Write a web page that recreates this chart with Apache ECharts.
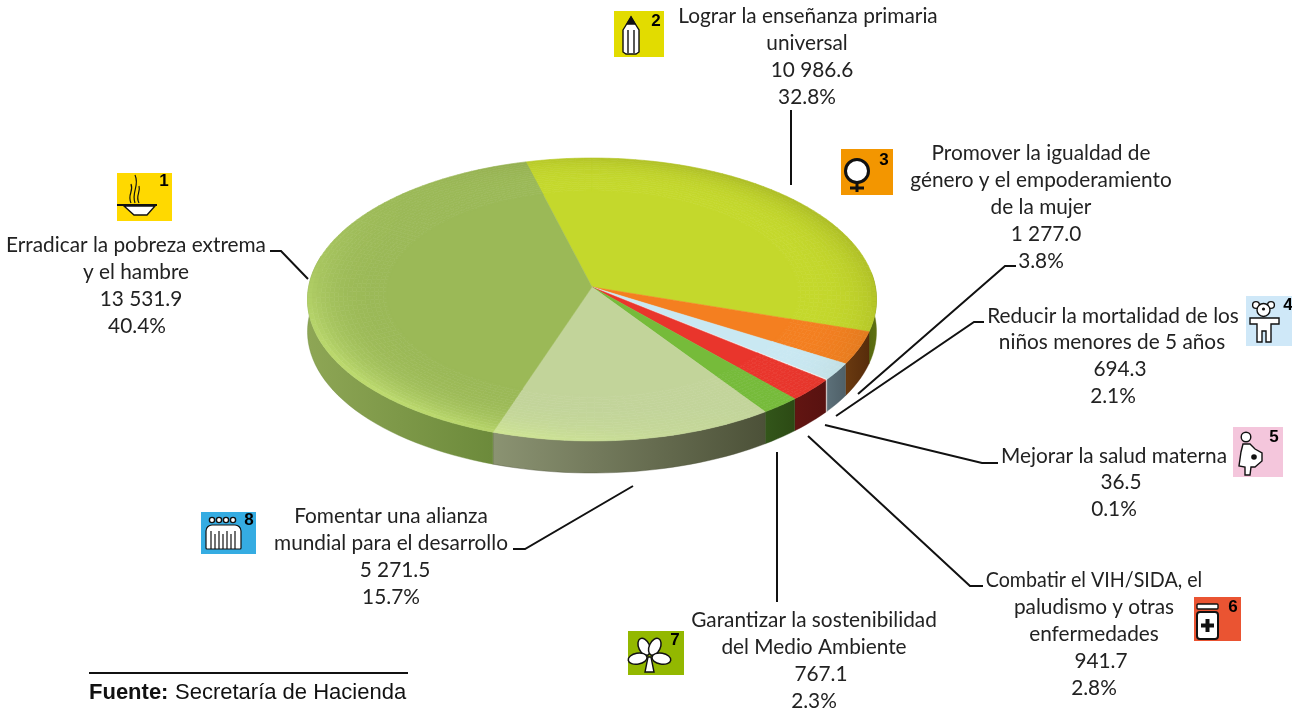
<!DOCTYPE html>
<html><head><meta charset="utf-8">
<style>html,body{margin:0;padding:0;background:#fff}#c{width:1292px;height:712px}</style>
<script src="https://cdn.jsdelivr.net/npm/echarts@6/dist/echarts.min.js"></script>
</head><body><div id="c"></div>
<script>
// ---- data (objectives 1..8) ----
const categories = [
  ['Erradicar la pobreza extrema','y el hambre'],
  ['Lograr la enseñanza primaria','universal'],
  ['Promover la igualdad de','género y el empoderamiento','de la mujer'],
  ['Reducir la mortalidad de los','niños menores de 5 años'],
  ['Mejorar la salud materna'],
  ['Combatir el VIH/SIDA, el','paludismo y otras','enfermedades'],
  ['Garantizar la sostenibilidad','del Medio Ambiente'],
  ['Fomentar una alianza','mundial para el desarrollo']
];
const values = [13531.9,10986.6,1277.0,694.3,36.5,941.7,767.1,5271.5];
const valueLabels = ['13 531.9','10 986.6','1 277.0','694.3','36.5','941.7','767.1','5 271.5'];
const percentLabels = ['40.4%','32.8%','3.8%','2.1%','0.1%','2.8%','2.3%','15.7%'];
const drawOrder = [1,2,3,4,5,6,7,0];
const sourceBold = 'Fuente:';
const sourceText = 'Secretaría de Hacienda';

// ---- styles & layout ----
const topColors = ['#9bb957','#c4d82c','#f47f20','#c9e8f2','#f4f4f4','#e9352c','#76bb3a','#c2d49a'];
const sideColors = [['#8ea655','#6c8a3b'],['#55680f','#5f7012'],['#6a3a10','#572c0b'],['#5c7079','#4f6068'],
                    ['#dddddd','#dddddd'],['#621512','#581210'],['#33561a','#2c4a14'],['#8b9372','#4c5138']];
const startAngle = -13, warp = 3, persp = 0.0884, depth = 0.228;
const cx = 592, cy = 287, ax = 283.4, ay = 140.4;
const labelCx = [[136,136,141,137],[808,807,812,807],[1041,1041,1041,1046,1041],[1113,1112,1120,1113],
                 [1114,1121,1114],[1094,1094,1094,1101,1094],[814,814,821,814],[391,391,395,391]];
const labelTop = [245,16,153,316,456,580,620,516];
const labelStep = [27,27,27,26.7,26.5,27,27,27];
const leaders = [
  [[270,251],[281,251],[308,279]], [[791,110],[791,185]],
  [[1016,266],[1005,266],[858,394]], [[984,322],[974,322],[836,416]],
  [[998,463],[982,463],[825,425]], [[983,586],[970,586],[808,436]],
  [[777,602],[777,452]], [[513,549],[525,549],[633,486]]
];
const badges = [
  [117,173,55,48,'#ffd900','1',164,181],[614,11,50,46,'#e2dc00','2',656,21],
  [841,149,52,46,'#f39600','3',884,160],[1246,296,46,50,'#cfe8f8','4',1288,305],
  [1233,427,50,50,'#f4c6dc','5',1274,437],[1194,597,47,44,'#ea5432','6',1233,607],
  [628,631,56,44,'#93b800','7',675,640],[201,512,55,42,'#35ace2','8',249,520]
];

const total = values.reduce((a,b)=>a+b,0);
let acc = startAngle;
const sectors = drawOrder.map(i=>{const s=acc; acc+=values[i]/total*360; return [i,values[i],s,acc];});

const rad = d=>d*Math.PI/180;
function uv(theta,r,drop){
  const th=theta+warp*Math.sin(rad(2*(theta-60)));
  const u=r*Math.sin(rad(th)), v=r*Math.cos(rad(th)), w=1+persp*v;
  return [u/w, v/w-(drop||0)];
}
function hex(c){return [1,3,5].map(i=>parseInt(c.substr(i,2),16));}
function mix(a,b,t){const A=hex(a),B=hex(b);return 'rgb('+A.map((x,i)=>Math.round(x+(B[i]-x)*t)).join(',')+')';}

function topItem(params,api){
  const i=api.value(0), s=api.value(2), e=api.value(3), base=topColors[i];
  const C=p=>api.coord(p), kids=[];
  const pts=[C(uv(0,0))];
  const rIn=0.72, rings=18, n=Math.max(1,Math.ceil((e-s)/2));
  for(let k=0;k<=n;k++) pts.push(C(uv(s+(e-s)*k/n,rIn+0.005)));
  kids.push({type:'polygon',shape:{points:pts},style:{fill:base,stroke:base,lineWidth:0.5}});
  for(let k=0;k<n;k++){
    const a=s+(e-s)*k/n,b=s+(e-s)*(k+1)/n,m=(a+b)/2;
    const c0=Math.cos(rad(m-228));
    const lite=Math.pow(Math.max(c0,0),2)*0.5, dark=Math.max(-c0,0)*0.22;
    for(let q=0;q<rings;q++){
      const r0=rIn+(1-rIn)*q/rings,r1=rIn+(1-rIn)*(q+1)/rings;
      const f=(q+0.5)/rings, t=Math.pow(f,3);
      const col=lite>0?mix(base,'#e2ff88',lite*t):mix(base,'#5a5a10',dark*t);
      kids.push({type:'polygon',shape:{points:[C(uv(a,r0)),C(uv(b,r0)),C(uv(b,r1)),C(uv(a,r1))]},
                 style:{fill:col,stroke:col,lineWidth:0.6}});
    }
  }
  return {type:'group',children:kids};
}
function sideItem(params,api){
  const i=api.value(0), s=Math.max(api.value(2),82), e=Math.min(api.value(3),280);
  if(e<=s) return {type:'group',children:[]};
  const n=Math.max(2,Math.ceil((e-s)/2)), up=[], down=[];
  for(let k=0;k<=n;k++){const t=s+(e-s)*k/n; up.push(api.coord(uv(t,1))); down.unshift(api.coord(uv(t,1,depth)));}
  const c=sideColors[i];
  return {type:'polygon',shape:{points:up.concat(down)},style:{
    fill:new echarts.graphic.LinearGradient(0,0,1,0,[{offset:0,color:c[0]},{offset:1,color:c[1]}]),
    stroke:c[1],lineWidth:0.4}};
}

// ---- graphic helpers ----
const ink='#111';
const poly=(pts,fill,lw)=>({type:'polygon',shape:{points:pts},style:{fill:fill||'#fff',stroke:ink,lineWidth:lw==null?1.4:lw},z:20});
const line=(pts,lw)=>({type:'polyline',shape:{points:pts},style:{fill:null,stroke:ink,lineWidth:lw||1.4},z:20});
const circ=(x,y,r,fill,lw)=>({type:'circle',shape:{cx:x,cy:y,r:r},style:{fill:fill||'#fff',stroke:ink,lineWidth:lw==null?1.4:lw},z:20});
const curve=(a,b,c,d)=>({type:'bezierCurve',shape:{x1:a[0],y1:a[1],cpx1:b[0],cpy1:b[1],cpx2:c[0],cpy2:c[1],x2:d[0],y2:d[1]},style:{fill:null,stroke:ink,lineWidth:1.2},z:20});
const leaf=(x,y,rx,ry,rot)=>({type:'ellipse',shape:{cx:0,cy:-ry,rx:rx,ry:ry},x:x,y:y,rotation:rad(rot),style:{fill:'#fff',stroke:ink,lineWidth:1.5},z:20});

const glyphs=[
  // soup bowl
  poly([[124,206],[134,215],[147,215],[155,206]]), line([[117,205],[157,205]],1.8),
  curve([131,203],[127,194],[134,192],[131,184]), curve([135,203],[131,192],[140,186],[135,175]), curve([139,203],[135,196],[141,192],[139,186]),
  // pencil
  poly([[623,30],[631,17],[639,30],[639,52],[636,54],[626,54],[623,52]]), poly([[631,17],[627,24],[635,24]],ink),
  line([[628,30],[628,53]]), line([[634,30],[634,53]]),
  // venus
  line([[857,183],[857,192]],3), line([[850,188],[864,188]],3), circ(857,171,11.5,'#fff',3),
  // child
  circ(1256,305,3.4), circ(1271,305,3.4), circ(1263.5,310,6.5), circ(1263.5,309,1.6,ink,0),
  poly([[1250,318],[1279,318],[1279,324],[1271,324],[1271,342],[1266,342],[1266,331],[1262,331],[1262,342],[1257,342],[1257,324],[1250,324]]),
  // pregnant
  circ(1246,437,4.8), poly([[1243,444],[1250,444],[1255,449],[1262,453],[1262,461],[1255,467],[1251,467],[1250,475],[1245,475],[1245,467],[1239,466],[1241,452]]),
  circ(1254,457,2.8,ink,0),
  // bottle
  {type:'rect',shape:{x:1197,y:604,width:21,height:5,r:1},style:{fill:'#fff',stroke:ink,lineWidth:1.4},z:20},
  {type:'rect',shape:{x:1197,y:612,width:21,height:27,r:3},style:{fill:'#fff',stroke:ink,lineWidth:2},z:20},
  {type:'rect',shape:{x:1205.5,y:619,width:4,height:13},style:{fill:ink},z:21},
  {type:'rect',shape:{x:1201,y:623.5,width:13,height:4},style:{fill:ink},z:21},
  // tree
  leaf(648,655,5.5,9,25), leaf(651,655,5.5,9,-25), leaf(647,657,5.5,9.5,100), leaf(652,657,5.5,9.5,-100),
  poly([[648,657],[651,657],[654,672],[645,672]]),
  // people
  {type:'rect',shape:{x:206,y:525,width:35,height:24,r:[6,6,1,1]},style:{fill:'#fff',stroke:ink,lineWidth:1.2},z:20},
  circ(212,520,2.6),circ(219,520,2.6),circ(226,520,2.6),circ(233,520,2.6),
  line([[211,531],[211,549]],1.2),line([[215,534],[215,549]],1.2),line([[219,531],[219,549]],1.2),line([[223,534],[223,549]],1.2),
  line([[227,531],[227,549]],1.2),line([[231,534],[231,549]],1.2),line([[235,531],[235,549]],1.2)
];

const elements=[];
leaders.forEach(p=>elements.push({type:'polyline',shape:{points:p},style:{fill:null,stroke:'#111',lineWidth:2},z:15}));
badges.forEach(b=>{
  elements.push({type:'rect',shape:{x:b[0],y:b[1],width:b[2],height:b[3]},style:{fill:b[4]},z:18});
  elements.push({type:'text',x:b[6],y:b[7],style:{text:b[5],fill:'#000',font:'bold 17px "Liberation Sans"',textAlign:'center',textVerticalAlign:'middle'},z:22});
});
glyphs.forEach(g=>elements.push(g));
categories.forEach((c,i)=>{
  const lines=c.concat([valueLabels[i],percentLabels[i]]);
  lines.forEach((t,j)=>{
    const el={type:'text',x:labelCx[i][j],y:labelTop[i]+j*labelStep[i],
      style:{text:t,fill:'#222',font:'20.8px Lato',textAlign:'center',textVerticalAlign:'middle'},z:16};
    if(i===5&&j===0) el.scaleX=0.945;
    elements.push(el);
  });
});
elements.push({type:'line',shape:{x1:89,y1:673,x2:408,y2:673},style:{stroke:'#111',lineWidth:2},z:15});
elements.push({type:'text',x:89,y:693,style:{text:sourceBold,fill:'#111',font:'bold 22px "Liberation Sans"',textVerticalAlign:'middle'},z:16});
elements.push({type:'text',x:175,y:693,style:{text:sourceText,fill:'#111',font:'22px "Liberation Sans"',textVerticalAlign:'middle'},z:16});

const chart=echarts.init(document.getElementById('c'),null,{renderer:'canvas'});
chart.setOption({
  animation:false, backgroundColor:'#fff',
  grid:{left:cx-ax,top:cy-ay,width:2*ax,height:2*ay,show:false},
  xAxis:{type:'value',min:-1,max:1,show:false},
  yAxis:{type:'value',min:-1,max:1,show:false},
  graphic:{elements:elements},
  series:[
    {type:'custom',coordinateSystem:'cartesian2d',clip:false,z:2,silent:true,renderItem:sideItem,data:sectors,encode:{x:0,y:1}},
    {type:'custom',coordinateSystem:'cartesian2d',clip:false,z:3,silent:true,renderItem:topItem,data:sectors,encode:{x:0,y:1}}
  ]
});
</script></body></html>
